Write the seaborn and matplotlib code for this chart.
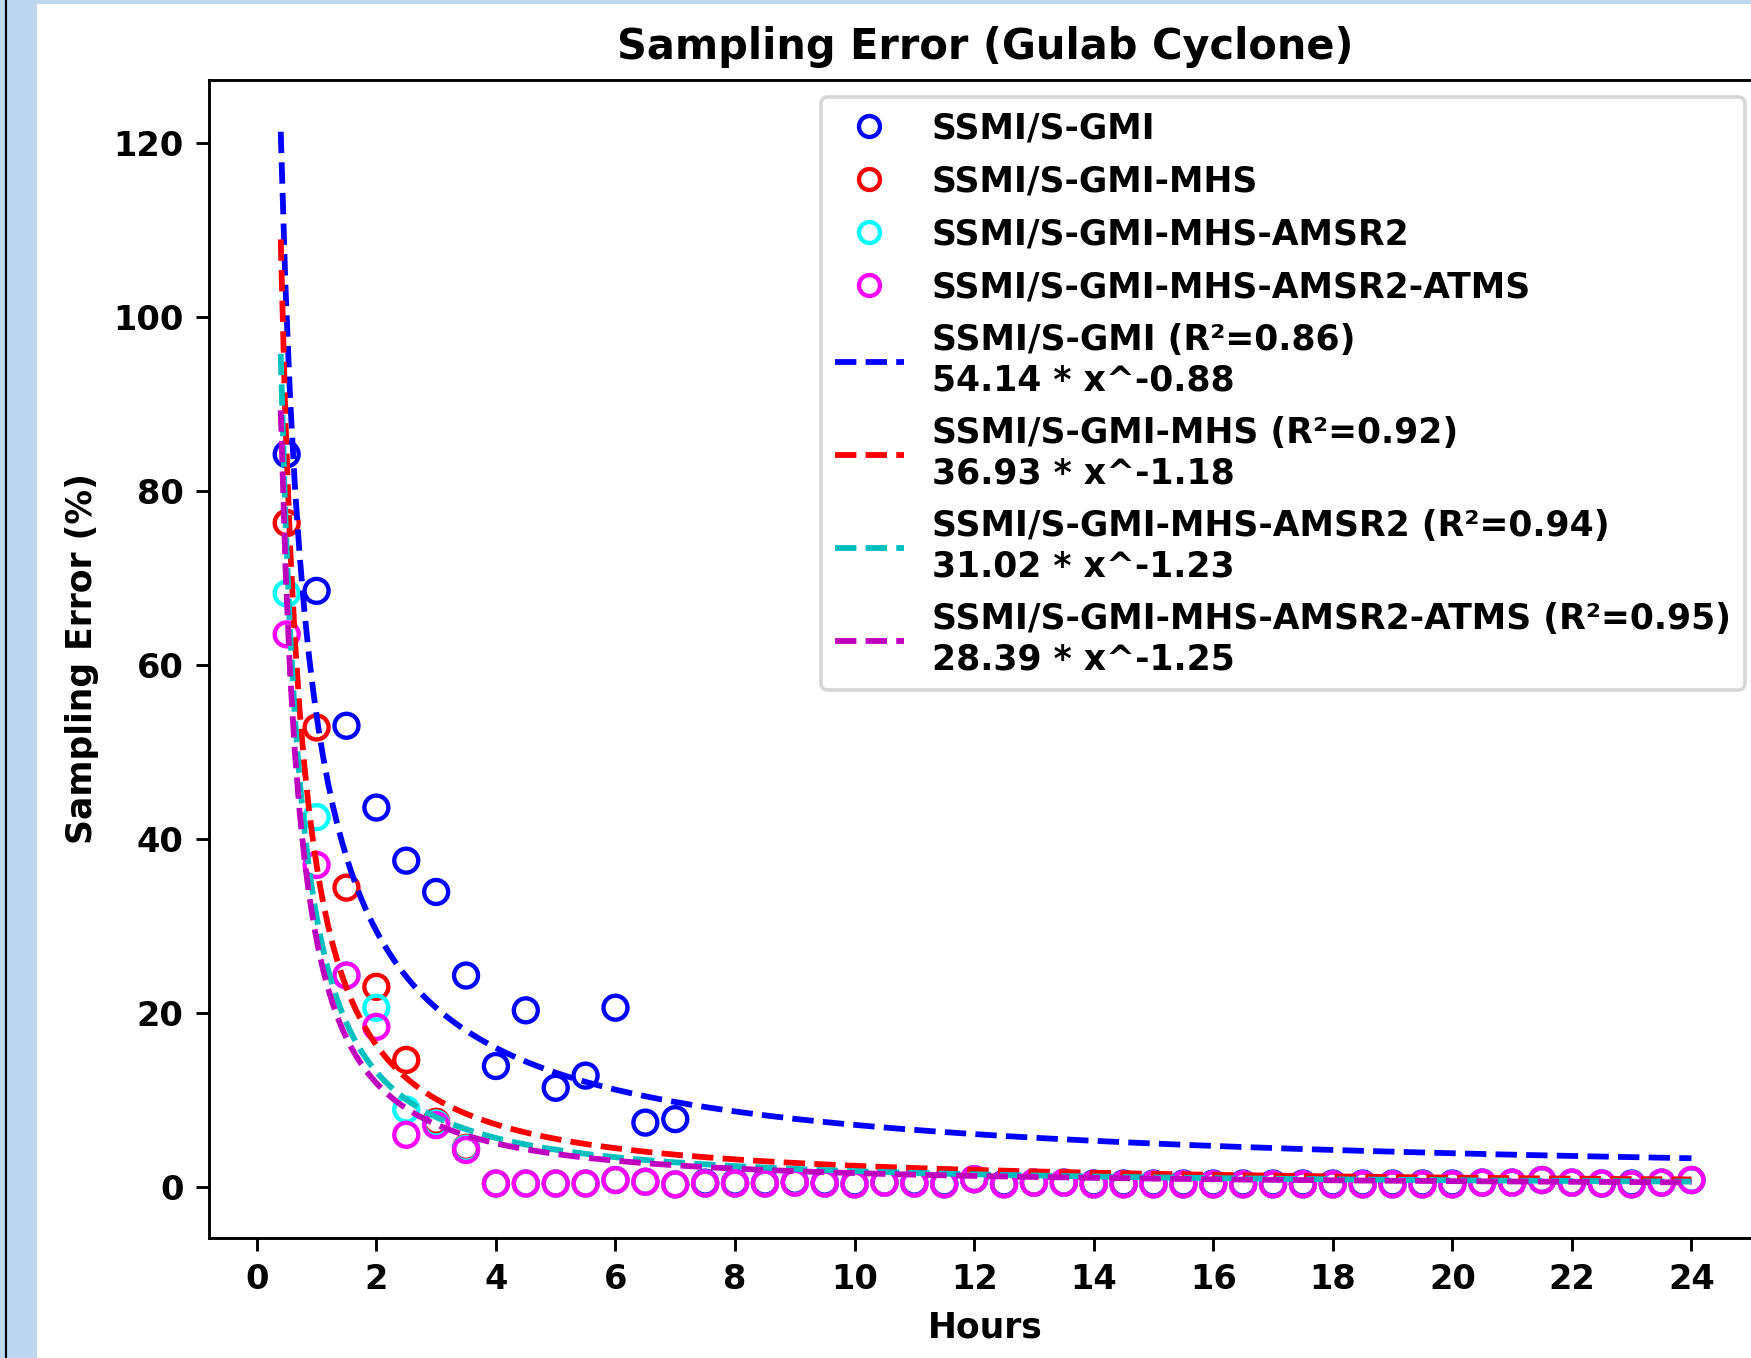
import numpy as np
import pandas as pd
import matplotlib
matplotlib.use("Agg")
import matplotlib.pyplot as plt
import seaborn as sns
from matplotlib.patches import Rectangle
from matplotlib.lines import Line2D

# ---------------- data ----------------
hours = [0.5 * i for i in range(1, 49)]  # 0.5 ... 24

tail_m = [0.4, 0.4, 0.4, 0.4, 0.8, 0.6, 0.3, 0.4, 0.4, 0.4, 0.5, 0.4, 0.3, 0.5,
          0.4, 0.3, 0.9, 0.3, 0.5, 0.5, 0.3, 0.3, 0.3, 0.3, 0.3, 0.3, 0.3, 0.3,
          0.3, 0.3, 0.3, 0.3, 0.3, 0.5, 0.5, 0.8, 0.5, 0.4, 0.3, 0.5, 0.8]  # x = 4 ... 24

err_gmi = [84.2, 68.5, 53.0, 43.6, 37.5, 33.9, 24.3, 13.9, 20.3, 11.4, 12.8, 20.6, 7.4, 7.8,
           0.5, 0.5, 0.5, 0.6, 0.5, 0.4, 0.5, 0.5, 0.4, 0.9, 0.4, 0.5, 0.5, 0.4,
           0.4, 0.4, 0.4, 0.4, 0.4, 0.4, 0.4, 0.4, 0.4, 0.4, 0.4, 0.4, 0.5, 0.5,
           0.8, 0.5, 0.4, 0.4, 0.5, 0.8]
err_mhs = [76.3, 52.8, 34.4, 23.0, 14.6, 7.5, 4.5] + tail_m
err_amsr2 = [68.2, 42.5, 24.3, 20.6, 8.9, 7.3, 4.4] + tail_m
err_atms = [63.5, 37.0, 24.3, 18.4, 6.0, 7.1, 4.25] + tail_m

names = ["SSMI/S-GMI", "SSMI/S-GMI-MHS", "SSMI/S-GMI-MHS-AMSR2", "SSMI/S-GMI-MHS-AMSR2-ATMS"]
series = [err_gmi, err_mhs, err_amsr2, err_atms]
fit_a = [54.14, 36.93, 31.02, 28.39]
fit_b = [-0.88, -1.18, -1.23, -1.25]
fit_r2 = [0.86, 0.92, 0.94, 0.95]
point_colors = ["blue", "red", "cyan", "magenta"]
line_colors = ["b", "r", "c", "m"]
fit_start, fit_end = 0.4, 24.0

# ---------------- figure ----------------
DPI = 260
W, H = 1751, 1358
FS = 9.6
plt.rcParams["font.family"] = ["DejaVu Sans"]
plt.rcParams["font.weight"] = "bold"
plt.rcParams["axes.labelweight"] = "bold"
plt.rcParams["axes.titleweight"] = "bold"
plt.rcParams["xtick.labelsize"] = 9.3
plt.rcParams["ytick.labelsize"] = 9.3
plt.rcParams["axes.labelsize"] = FS

fig = plt.figure(figsize=(W / DPI, H / DPI), dpi=DPI)
fig.patch.set_facecolor("white")

# screenshot frame decoration
fig.patches.append(Rectangle((0, 0), 37 / W, 1, transform=fig.transFigure,
                             facecolor="#BDD7EE", edgecolor="none", zorder=0))
fig.patches.append(Rectangle((0, 1 - 4 / H), 1, 4 / H, transform=fig.transFigure,
                             facecolor="#BDD7EE", edgecolor="none", zorder=0))
fig.lines.append(Line2D([6 / W, 6 / W], [0, 1], transform=fig.transFigure,
                        color="black", lw=0.6, zorder=1))

ax = fig.add_axes([209 / W, 1 - 1238 / H, 1553 / W, (1238 - 80) / H])

point_handles = []
line_handles = []
for name, vals, pc in zip(names, series, point_colors):
    df = pd.DataFrame({"Hours": hours, "err": vals})
    sns.scatterplot(data=df, x="Hours", y="err", ax=ax, marker="o", s=44,
                    facecolors="none", edgecolor=pc, linewidth=1.2)
    point_handles.append(Line2D([], [], ls="none", marker="o", markersize=5.8,
                                markerfacecolor="none", markeredgecolor=pc,
                                markeredgewidth=1.2, label=name))

xfit = np.linspace(fit_start, fit_end, 300)
for name, a, b, r2, lc in zip(names, fit_a, fit_b, fit_r2, line_colors):
    dfit = pd.DataFrame({"Hours": xfit, "fit": a * xfit ** b})
    sns.lineplot(data=dfit, x="Hours", y="fit", ax=ax, color=lc, linestyle="--",
                 linewidth=1.6)
    line_handles.append(Line2D([], [], color=lc, ls="--", lw=1.6,
                               label=f"{name} (R\u00b2={r2:.2f})\n{a:.2f} * x^{b:.2f}"))

ax.set_xlim(-0.80, 25.18)
ax.set_ylim(-5.86, 127.2)
ax.set_xticks(np.arange(0, 25, 2))
ax.set_yticks(np.arange(0, 121, 20))
ax.set_xlabel("Hours")
ax.set_ylabel("Sampling Error (%)")
ax.set_title("Sampling Error (Gulab Cyclone)", fontsize=11.5, pad=5.8)
for sp in ax.spines.values():
    sp.set_visible(True)
    sp.set_color("black")

leg = ax.legend(handles=point_handles + line_handles, loc="upper right",
                fontsize=FS, labelspacing=0.55)
for t in leg.get_texts():
    t.set_linespacing(1.22)

fig.savefig("out.png", dpi=DPI)
